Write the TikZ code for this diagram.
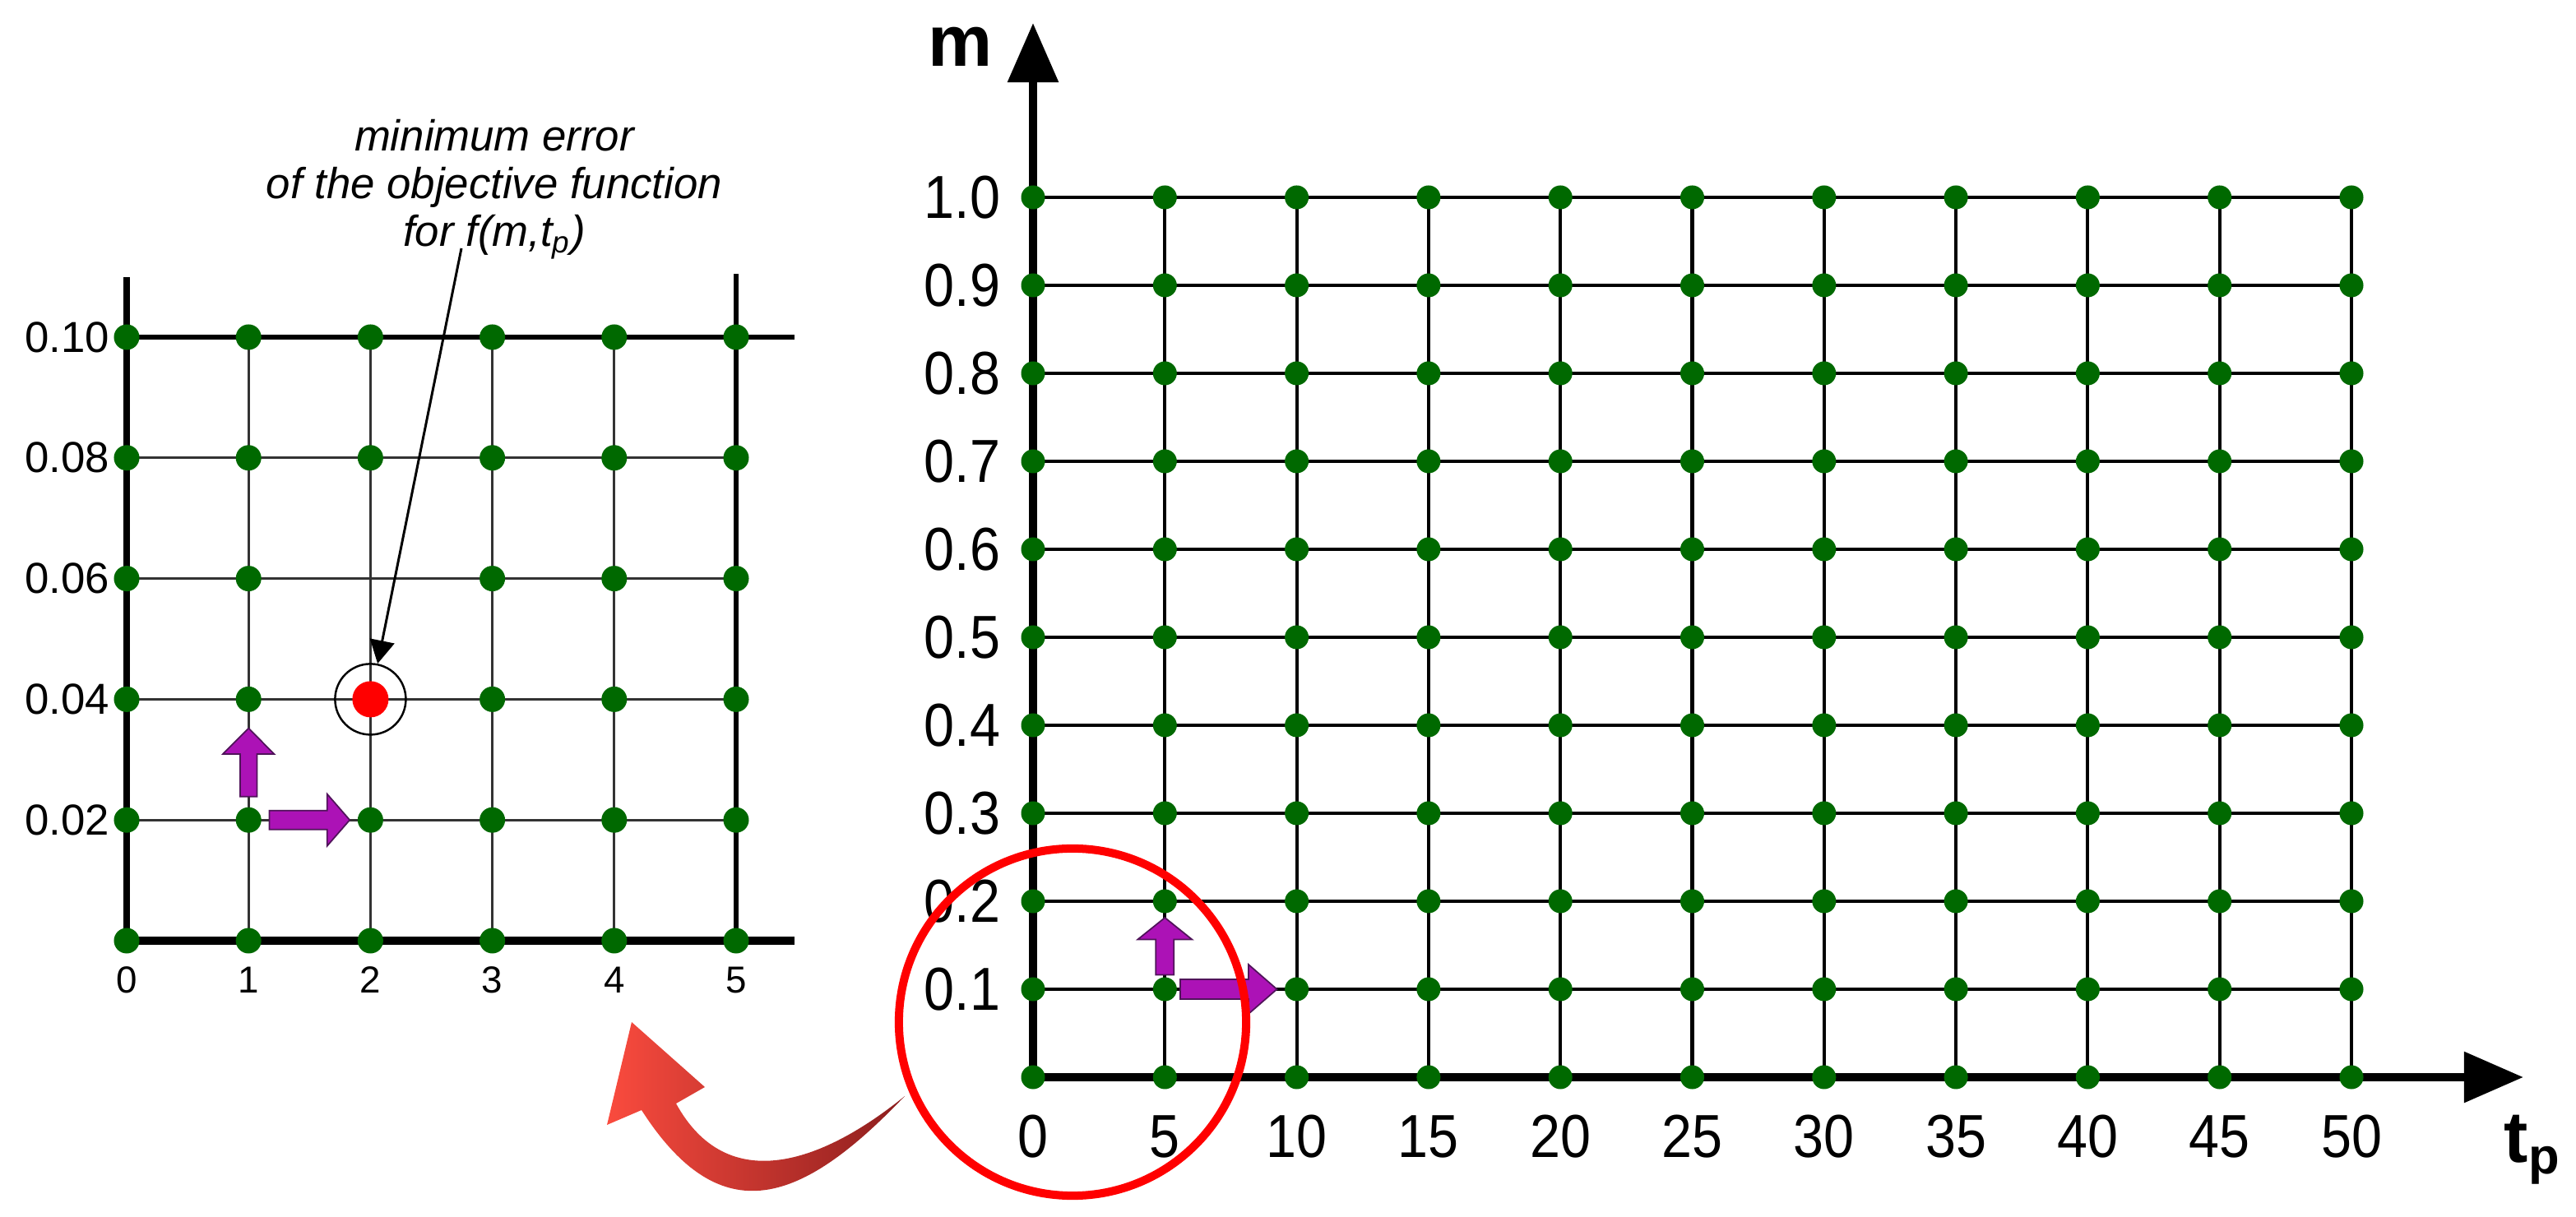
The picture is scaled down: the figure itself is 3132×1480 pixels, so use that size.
\documentclass[tikz,border=0pt]{standalone}
\usepackage{fontspec}
\setmainfont{Liberation Sans}
\newfontfamily\rlab[FakeStretch=0.9]{Liberation Sans}
\usetikzlibrary{arrows.meta}
\definecolor{dotgreen}{RGB}{0,105,0}
\definecolor{purfill}{RGB}{172,18,182}
\definecolor{purline}{RGB}{80,20,90}
\definecolor{redA}{RGB}{250,75,62}
\definecolor{redB}{RGB}{235,28,30}
\definecolor{redC}{RGB}{140,30,30}
\tikzset{
  rpt/.style={circle,fill=dotgreen,inner sep=0pt,minimum size=0.29cm},
  lpt/.style={circle,fill=dotgreen,inner sep=0pt,minimum size=0.31cm},
  rhline/.style={line width=1.3pt,black},
  rvline/.style={line width=1.15pt,black},
  raxis/.style={line width=2.85pt,black,-{Triangle[length=20.5pt,width=17pt]}},
  linner/.style={line width=0.85pt,black!80},
  ylabR/.style={anchor=east,inner sep=0pt,font=\rlab\fontsize{21}{24}\selectfont},
  xlabR/.style={anchor=center,inner sep=0pt,font=\rlab\fontsize{21}{24}\selectfont},
  ylabL/.style={anchor=east,inner sep=0pt,font=\fontsize{15}{18}\selectfont},
  xlabL/.style={anchor=center,inner sep=0pt,font=\fontsize{13}{16}\selectfont},
  axlab/.style={inner sep=0pt,font=\bfseries\fontsize{25}{28}\selectfont},
  ann/.style={align=center,inner sep=0pt,font=\itshape\fontsize{15}{16.6}\selectfont},
  pointer/.style={line width=0.85pt,black,-{Triangle[length=8pt,width=8.5pt]}},
  purarrow/.style={fill=purfill,draw=purline,line width=0.5pt,line join=miter},
}
\begin{document}
\begin{tikzpicture}[x=0.01cm,y=-0.01cm]
\useasboundingbox (0,0) rectangle (3132,1480);

% ---------------- right grid ----------------
\foreach \j in {1,...,10} {\draw[rhline] (1256,{1310-107*\j}) -- (2859,{1310-107*\j});}
\foreach \i in {1,...,10} {\draw[rvline] ({1256+160.3*\i},1310) -- ({1256+160.3*\i},240);}
\draw[raxis] (1256,1310) -- (1256,28);
\draw[raxis] (1256,1310) -- (3068,1310);
\foreach \i in {0,...,10} {
  \foreach \j in {0,...,10} {
    \node[rpt] (R-\i-\j) at ({1256+160.3*\i},{1310-107*\j}) {};
  }
}
\foreach \j/\t in {1/0.1,2/0.2,3/0.3,4/0.4,5/0.5,6/0.6,7/0.7,8/0.8,9/0.9,10/1.0}
  {\node[ylabR] (RY-\j) at (1217,{1310-107*\j}) {\t};}
\foreach \i/\t in {0/0,1/5,2/10,3/15,4/20,5/25,6/30,7/35,8/40,9/45,10/50}
  {\node[xlabR] (RX-\i) at ({1256+160.3*\i},1382) {\t};}
\node[axlab] (mlab) at (1168,57) {m};
\node[axlab,anchor=base west] (tlab) at (3044,1414) {t\textsubscript{p}};

% purple arrows right
\path[purarrow] (1405.3,1185.5) -- (1405.3,1142.5) -- (1383.3,1142.5) -- (1416.3,1116) -- (1449.3,1142.5) -- (1427.3,1142.5) -- (1427.3,1185.5) -- cycle;
\path[purarrow] (1435,1191) -- (1518,1191) -- (1518,1173) -- (1552.5,1203) -- (1518,1233) -- (1518,1215) -- (1435,1215) -- cycle;

% zoom circle
\node[circle,draw=red,line width=2.85pt,minimum size=4.22cm,inner sep=0pt] (zoomc) at (1304,1243) {};

% curved red arrow
\shade[left color=redA,middle color=redB,right color=redC]
  (1100,1333) .. controls (975,1464) and (877,1501) .. (780,1350)
  -- (738,1368) -- (768,1243) -- (857,1322) -- (822,1342)
  .. controls (884,1455) and (999,1415) .. (1100,1333) -- cycle;

% ---------------- left grid ----------------
\foreach \j in {1,...,4} {\draw[linner] (154,{1144-146.8*\j}) -- (895,{1144-146.8*\j});}
\foreach \i in {1,...,4} {\draw[linner] ({154+148.2*\i},1144) -- ({154+148.2*\i},410);}
\draw[line width=1.45pt,black] (154,410) -- (966,410);
\draw[line width=1.7pt,black] (895,1144) -- (895,333);
\draw[line width=2.3pt,black] (154,1144) -- (154,337);
\draw[line width=2.6pt,black] (154,1144) -- (966,1144);
\foreach \i in {0,...,5} {
  \foreach \j in {0,...,5} {
    \ifnum\i\j=23\relax\else
      \node[lpt] (L-\i-\j) at ({154+148.2*\i},{1144-146.8*\j}) {};
    \fi
  }
}
\foreach \j/\t in {1/0.02,2/0.04,3/0.06,4/0.08,5/0.10}
  {\node[ylabL] (LY-\j) at (134,{1144-146.8*\j}) {\t};}
\foreach \i in {0,...,5}
  {\node[xlabL] (LX-\i) at ({154+148.2*\i},1192) {\i};}

% minimum point
\node[circle,fill=red,inner sep=0pt,minimum size=0.44cm] (minpt) at (450.4,850.4) {};
\node[circle,draw=black,line width=0.7pt,inner sep=0pt,minimum size=0.86cm] (ring) at (450.4,850.4) {};

% purple arrows left
\path[purarrow] (292,968.7) -- (292,917) -- (271,917) -- (302.2,885.6) -- (333.4,917) -- (312.4,917) -- (312.4,968.7) -- cycle;
\path[purarrow] (327.4,985.7) -- (397.8,985.7) -- (397.8,965.7) -- (425.2,997.2) -- (397.8,1028.7) -- (397.8,1008.7) -- (327.4,1008.7) -- cycle;

% annotation
\node[ann,anchor=base] (ann) at (601,300) {minimum error\\of the objective function\\for f(m,t\textsubscript{p})};
\coordinate (annfoot) at (561,302);
\draw[pointer] (annfoot) -- (ring);
\end{tikzpicture}
\end{document}
